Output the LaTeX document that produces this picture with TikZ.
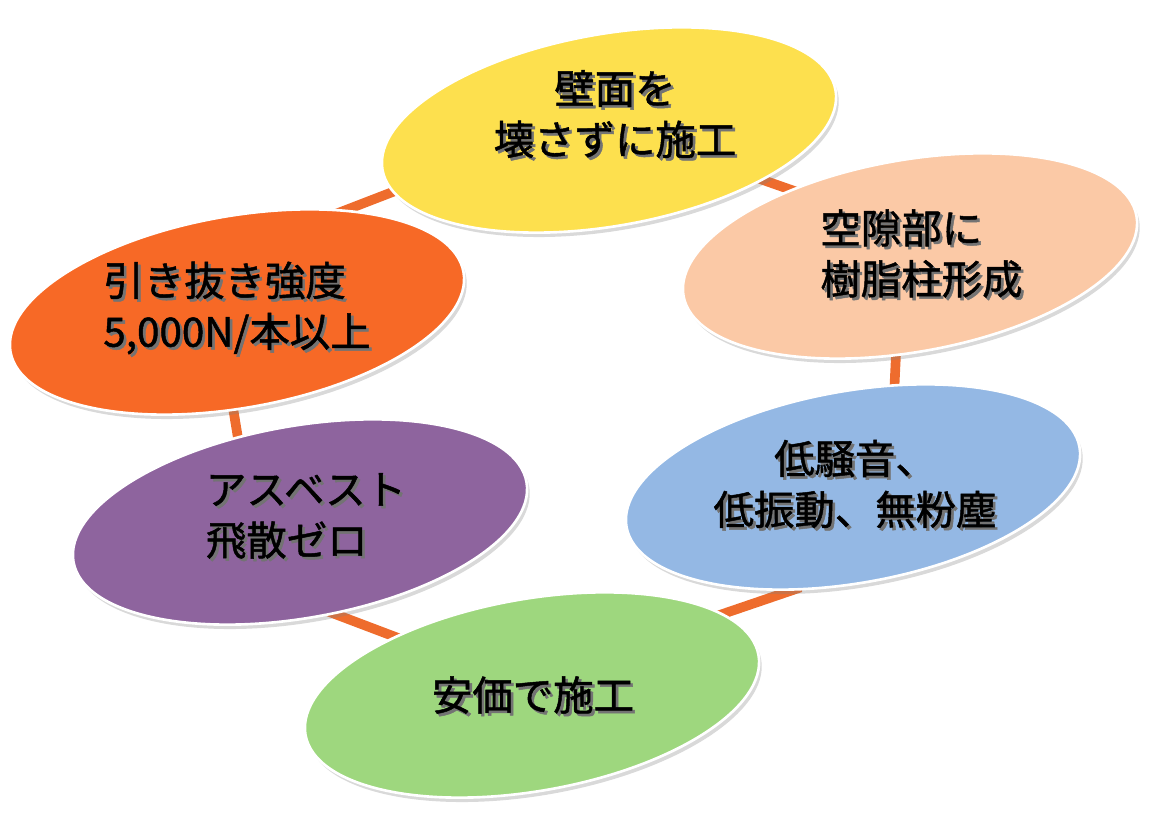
\documentclass[tikz,border=0pt]{standalone}
\usepackage{fontspec}
\newfontfamily\jpfont{Noto Sans CJK JP}[FakeBold=1.2]
\usetikzlibrary{shapes.geometric,shadows,backgrounds}

\definecolor{wallyellow}{RGB}{253,224,78}
\definecolor{gappeach}{RGB}{251,201,166}
\definecolor{quietblue}{RGB}{148,184,228}
\definecolor{cheapgreen}{RGB}{158,215,126}
\definecolor{asbpurple}{RGB}{142,100,158}
\definecolor{pullorange}{RGB}{247,105,38}
\definecolor{linkorange}{RGB}{238,108,45}

\begin{document}
\begin{tikzpicture}[
  blob/.style={ellipse, minimum width=9.2cm, minimum height=3.84cm, inner sep=0pt,
    rotate=10, draw=white, line width=1.5pt,
    drop shadow={shadow xshift=1.5pt, shadow yshift=-2.5pt, opacity=.3}},
  lbl/.style={font=\jpfont\fontsize{23}{29}\selectfont, text=black},
  lblshade/.style={lbl, text=black!55, xshift=1.5pt, yshift=-1.5pt},
  link/.style={line width=5.5pt, draw=linkorange, shorten <=-6pt, shorten >=-6pt,
    preaction={draw=black!30, transform canvas={shift={(2pt,-1pt)}}}}]

\useasboundingbox (0,0) rectangle (22.98,16.32);

% ellipses
\foreach \n/\x/\y/\col in {wall/12.18/13.72/wallyellow, gap/18.20/11.20/gappeach,
    quiet/17.06/6.58/quietblue, cheap/10.64/2.42/cheapgreen,
    asb/6.00/5.88/asbpurple, pull/4.74/10.08/pullorange}
  \node[blob, fill=\col] (\n) at (\x,\y) {};

% texts
\foreach \n/\x/\y/\al/\txt in {
    wall/12.30/14.04/center/{壁面を\\壊さずに施工},
    gap/18.43/11.25/left/{空隙部に\\樹脂柱形成},
    quiet/17.10/6.64/center/{低騒音、\\低振動、無粉塵},
    cheap/10.66/2.42/center/{安価で施工},
    asb/6.12/6.00/left/{アスベスト\\飛散ゼロ},
    pull/4.74/10.16/left/{引き抜き強度\\5,000N/本以上}}
{
  \node[lblshade, align=\al] (\n-s) at (\x,\y) {\txt};
  \node[lbl, align=\al] (\n-t) at (\x,\y) {\txt};
}

% ring
\begin{scope}[on background layer]
\draw[link] (wall.186) -- (pull.33);
\draw[link] (wall.332) -- (gap.141);
\draw[link] (gap.252) -- (quiet.58);
\draw[link] (quiet.229) -- (cheap.13);
\draw[link] (cheap.147) -- (asb.281);
\draw[link] (asb.116) -- (pull.258);
\end{scope}
\end{tikzpicture}
\end{document}
